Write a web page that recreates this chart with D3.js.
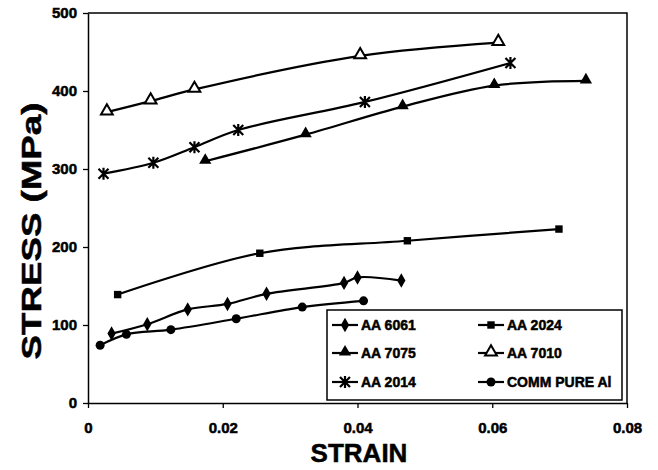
<!DOCTYPE html>
<html>
<head>
<meta charset="utf-8">
<script src="https://cdn.jsdelivr.net/npm/d3@7"></script>
<style>
  body { margin: 0; background: #fff; }
  text { font-family: "Liberation Sans", Arial, sans-serif; font-weight: bold; fill: #000; stroke: #000; stroke-width: 0.5px; }
</style>
</head>
<body>
<div id="chart"></div>
<script>
// Values: [strain, stress in MPa]
const aa6061 = [[0.0035, 89], [0.0088, 101], [0.0148, 120], [0.0207, 127], [0.0265, 140], [0.038, 154], [0.040, 161], [0.0465, 157]];
const aa2024 = [[0.0044, 139], [0.0255, 192], [0.0474, 208], [0.0699, 223]];
const aa7075 = [[0.0174, 310], [0.0323, 344], [0.0467, 380], [0.0603, 407], [0.0739, 413]];
const aa7010 = [[0.0028, 373], [0.0093, 387], [0.0158, 402], [0.0404, 445], [0.0609, 462]];
const aa2014 = [[0.0023, 294], [0.0097, 308], [0.0158, 328], [0.0223, 350], [0.0411, 386], [0.0627, 436]];
const commPure = [[0.0018, 74], [0.0057, 88], [0.0123, 94], [0.022, 108], [0.0318, 123], [0.0409, 131]];

const seriesNames = ["AA 6061", "AA 2024", "AA 7075", "AA 7010", "AA 2014", "COMM PURE Al"];
const xTicks = [0, 0.02, 0.04, 0.06, 0.08];
const yTicks = [0, 100, 200, 300, 400, 500];

const series = [
  { name: seriesNames[0], values: aa6061, marker: "diamond" },
  { name: seriesNames[1], values: aa2024, marker: "square" },
  { name: seriesNames[2], values: aa7075, marker: "triangle" },
  { name: seriesNames[3], values: aa7010, marker: "opentriangle" },
  { name: seriesNames[4], values: aa2014, marker: "star" },
  { name: seriesNames[5], values: commPure, marker: "circle" }
];

const width = 658, height = 470;
const x = d3.scaleLinear().domain([0, 0.08]).range([88, 627]);
const y = d3.scaleLinear().domain([0, 500]).range([403, 13]);

const svg = d3.select("#chart").append("svg")
  .attr("width", width)
  .attr("height", height);

// frame top + right
svg.append("path")
  .attr("d", "M" + x(0) + "," + y(500) + "H" + x(0.08) + "V" + y(0))
  .attr("fill", "none").attr("stroke", "#000").attr("stroke-width", 1.5);

// axes
const xAxis = svg.append("g")
  .attr("transform", "translate(0," + y(0) + ")")
  .call(d3.axisBottom(x).tickValues(xTicks).tickFormat(d => d === 0 ? "0" : d3.format(".2f")(d)).tickSizeInner(5).tickSizeOuter(0).tickPadding(14));
const yAxis = svg.append("g")
  .attr("transform", "translate(" + x(0) + ",0)")
  .call(d3.axisLeft(y).tickValues(yTicks).tickSizeInner(5).tickSizeOuter(0).tickPadding(6));

[xAxis, yAxis].forEach(g => {
  g.select(".domain").attr("stroke-width", 1.5);
  g.selectAll(".tick line").attr("stroke-width", 1.3);
  g.selectAll("text").style("font-size", "15px").attr("font-family", null);
});

// axis titles
svg.append("text")
  .attr("x", 359).attr("y", 462)
  .attr("text-anchor", "middle")
  .style("font-size", "26px")
  .text("STRAIN");

svg.append("text")
  .attr("transform", "translate(41,231) rotate(-90)")
  .attr("text-anchor", "middle")
  .attr("textLength", 257)
  .attr("lengthAdjust", "spacingAndGlyphs")
  .style("font-size", "28px")
  .text("STRESS (MPa)");

// marker drawing
function drawMarker(g, type, cx, cy) {
  if (type === "diamond") {
    g.append("path").attr("d", d3.symbol(d3.symbolDiamond, 60)())
      .attr("transform", "translate(" + cx + "," + cy + ")").attr("fill", "#000");
  } else if (type === "square") {
    g.append("path").attr("d", d3.symbol(d3.symbolSquare, 55)())
      .attr("transform", "translate(" + cx + "," + cy + ")").attr("fill", "#000");
  } else if (type === "triangle") {
    g.append("path").attr("d", d3.symbol(d3.symbolTriangle, 65)())
      .attr("transform", "translate(" + cx + "," + (cy - 1) + ")").attr("fill", "#000");
  } else if (type === "opentriangle") {
    g.append("path").attr("d", d3.symbol(d3.symbolTriangle, 60)())
      .attr("transform", "translate(" + cx + "," + (cy - 1) + ")")
      .attr("fill", "#fff").attr("stroke", "#000").attr("stroke-width", 2);
  } else if (type === "star") {
    const r = 5;
    g.append("path")
      .attr("d", "M" + (cx - r) + "," + (cy - r) + "L" + (cx + r) + "," + (cy + r) +
        "M" + (cx - r) + "," + (cy + r) + "L" + (cx + r) + "," + (cy - r) +
        "M" + cx + "," + (cy - r - 1) + "V" + (cy + r + 1))
      .attr("stroke", "#000").attr("stroke-width", 2.2).attr("fill", "none");
  } else if (type === "circle") {
    g.append("circle").attr("cx", cx).attr("cy", cy).attr("r", 4.5).attr("fill", "#000");
  }
}

const line = d3.line()
  .x(d => x(d[0]))
  .y(d => y(d[1]))
  .curve(d3.curveCatmullRom.alpha(0.5));

const plot = svg.append("g");
series.forEach(s => {
  plot.append("path")
    .datum(s.values)
    .attr("d", line)
    .attr("fill", "none")
    .attr("stroke", "#000")
    .attr("stroke-width", 2.2);
  const mg = plot.append("g");
  s.values.forEach(d => drawMarker(mg, s.marker, x(d[0]), y(d[1])));
});

// legend
const legend = svg.append("g");
legend.append("rect")
  .attr("x", 327).attr("y", 310).attr("width", 295).attr("height", 90)
  .attr("fill", "#fff").attr("stroke", "#000").attr("stroke-width", 1.5);

const rowY = [325, 353, 382];
const colX = [332, 478];
series.forEach((s, i) => {
  const lx = colX[i % 2], ly = rowY[Math.floor(i / 2)];
  legend.append("line")
    .attr("x1", lx).attr("x2", lx + 26).attr("y1", ly).attr("y2", ly)
    .attr("stroke", "#000").attr("stroke-width", 2.2);
  drawMarker(legend, s.marker, lx + 13, ly);
  legend.append("text")
    .attr("x", lx + 29).attr("y", ly + 5)
    .style("font-size", "14px")
    .text(s.name);
});
</script>
</body>
</html>
